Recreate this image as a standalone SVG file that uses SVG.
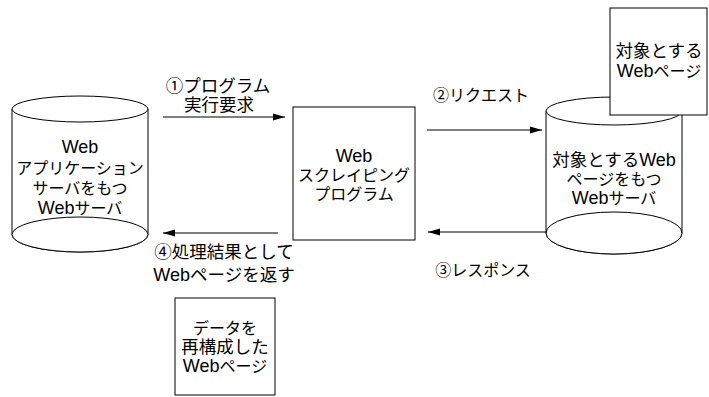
<svg xmlns="http://www.w3.org/2000/svg" width="709" height="397" viewBox="0 0 709 397">
<style>
.s{fill:#fff;stroke:#000;stroke-width:1}
.t{font-family:"Liberation Sans","Noto Sans CJK JP",sans-serif;font-size:16px;fill:#000;text-anchor:middle}
.k{font-size:17.5px}
.w{font-size:18px}
.c{stroke:#000;stroke-width:1;fill:none}
</style>
<defs>
<marker id="ah" markerWidth="12" markerHeight="8" refX="12" refY="4" orient="auto" markerUnits="userSpaceOnUse">
<polygon points="0,0.5 12,4 0,7.5" fill="#000"/>
</marker>
</defs>
<rect width="709" height="397" fill="#fff"/>
<g id="app-server">
<path class="s" d="M12,109 V234.5 A68,17.5 0 0 0 148,234.5 V109"/>
<ellipse class="s" cx="80" cy="109" rx="68" ry="13"/>
<ellipse class="s" cx="80" cy="234.5" rx="68" ry="17.5"/>
<text class="t" x="80" y="153"><tspan class="w">Web</tspan></text>
<text class="t" x="80" y="174">アプリケーション</text>
<text class="t" x="80" y="194">サーバをもつ</text>
<text class="t" x="80" y="214"><tspan class="w">Web</tspan>サーバ</text>
</g>
<g id="scraper">
<rect class="s" x="293" y="107" width="122" height="133"/>
<text class="t" x="354" y="162"><tspan class="w">Web</tspan></text>
<text class="t" x="354" y="181">スクレイピング</text>
<text class="t" x="354" y="200">プログラム</text>
</g>
<g id="target-server">
<path class="s" d="M546,111 V233 A68,21 0 0 0 682,233 V111"/>
<ellipse class="s" cx="614" cy="111" rx="68" ry="14"/>
<ellipse class="s" cx="614" cy="233" rx="68" ry="21"/>
<text class="t" x="614" y="166"><tspan class="k">対象とする</tspan><tspan class="w">Web</tspan></text>
<text class="t" x="614" y="185">ページをもつ</text>
<text class="t" x="614" y="204"><tspan class="w">Web</tspan>サーバ</text>
</g>
<g id="target-page">
<rect class="s" x="610" y="8" width="97" height="107"/>
<text class="t k" x="659" y="57">対象とする</text>
<text class="t" x="659" y="77"><tspan class="w">Web</tspan>ページ</text>
</g>
<g id="rebuilt-page">
<rect class="s" x="175" y="298" width="100" height="97"/>
<text class="t" x="225" y="334">データを</text>
<text class="t k" x="225" y="353">再構成した</text>
<text class="t" x="225" y="372"><tspan class="w">Web</tspan>ページ</text>
</g>
<g id="connectors">
<line class="c" x1="163" y1="117" x2="285" y2="117" marker-end="url(#ah)"/>
<line class="c" x1="427" y1="130" x2="542" y2="130" marker-end="url(#ah)"/>
<line class="c" x1="547" y1="232" x2="428" y2="232" marker-end="url(#ah)"/>
<line class="c" x1="278" y1="233" x2="163" y2="233" marker-end="url(#ah)"/>
</g>
<g id="labels">
<text class="t k" x="218" y="92">①プログラム</text>
<text class="t k" x="219" y="111">実行要求</text>
<text class="t" x="481" y="101">②リクエスト</text>
<text class="t" x="483" y="276">③レスポンス</text>
<text class="t k" x="224" y="258">④処理結果として</text>
<text class="t" x="224" y="281"><tspan class="w">Web</tspan><tspan class="k">ページを返す</tspan></text>
</g>
</svg>
